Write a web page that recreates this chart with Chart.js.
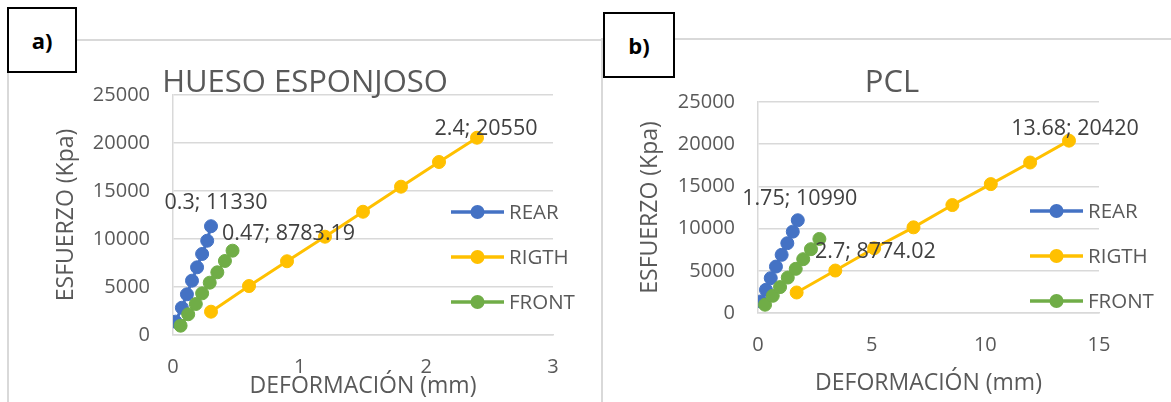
<!DOCTYPE html>
<html>
<head>
<meta charset="utf-8">
<script src="https://cdn.jsdelivr.net/npm/chart.js@4.4.1/dist/chart.umd.min.js"></script>
<style>
  body { margin: 0; background: #fff; width: 1171px; height: 402px; position: relative; overflow: hidden; font-family: "Open Sans", sans-serif; }
  .frame { position: absolute; border-top: 2px solid #d9d9d9; border-left: 2px solid #d9d9d9; }
  .tag { position: absolute; border: 2px solid #000; background: #fff; font-weight: bold; font-size: 22px; color: #000;
         display: flex; align-items: center; justify-content: center; box-sizing: border-box; z-index: 2; }
  canvas { position: absolute; top: 0; }
</style>
</head>
<body>
<div class="frame" style="left:7px; top:39px; width:600px; height:380px;"></div>
<div class="frame" style="left:601px; top:38px; width:600px; height:380px;"></div>
<div class="tag" style="left:7px; top:7px; width:70px; height:66px;">a)</div>
<div class="tag" style="left:603px; top:12px; width:72px; height:66px;">b)</div>
<div style="position:absolute; left:0; top:0; width:590px; height:402px;"><canvas id="chartA"></canvas></div>
<div style="position:absolute; left:590px; top:0; width:581px; height:402px;"><canvas id="chartB"></canvas></div>
<script>
// series names
const seriesNames = ['REAR', 'RIGTH', 'FRONT'];
const seriesColors = ['#4472C4', '#FFC000', '#70AD47'];

// a) HUESO ESPONJOSO
const rearXA = [0.02, 0.07, 0.11, 0.15, 0.19, 0.23, 0.27, 0.3];
const rearYA = [1390, 2840, 4240, 5660, 7050, 8440, 9820, 11330];
const rightXA = [0.3, 0.6, 0.9, 1.2, 1.5, 1.8, 2.1, 2.4];
const rightYA = [2430, 5100, 7680, 10240, 12840, 15450, 18020, 20550];
const frontXA = [0.06, 0.12, 0.18, 0.23, 0.29, 0.35, 0.41, 0.47];
const frontYA = [970, 2160, 3230, 4340, 5450, 6530, 7710, 8783.19];

// b) PCL
const rearXB = [0.12, 0.35, 0.56, 0.79, 1.04, 1.29, 1.53, 1.75];
const rearYB = [1370, 2750, 4130, 5500, 6890, 8270, 9640, 10990];
const rightXB = [1.7, 3.4, 5.11, 6.84, 8.55, 10.24, 11.97, 13.68];
const rightYB = [2430, 5030, 7670, 10150, 12790, 15270, 17830, 20420];
const frontXB = [0.31, 0.65, 0.97, 1.31, 1.66, 1.99, 2.33, 2.7];
const frontYB = [980, 2040, 3070, 4200, 5230, 6380, 7560, 8774.02];

// axis ticks
const yTicks = [0, 5000, 10000, 15000, 20000, 25000];
const xTicksA = [0, 1, 2, 3];
const xTicksB = [0, 5, 10, 15];

Chart.defaults.font.family = '"Open Sans", sans-serif';
Chart.defaults.color = '#595959';

function pairs(xs, ys) {
    return xs.map((x, i) => ({ x: x, y: ys[i] }));
}

// title, end-point labels and legend drawn on the canvas
const panelPlugin = {
    id: 'panel',
    afterDatasetsDraw(chart, args, opts) {
        const ctx = chart.ctx;
        ctx.save();
        ctx.textAlign = 'center';
        ctx.textBaseline = 'middle';
        ctx.fillStyle = '#595959';
        ctx.font = '31px "Open Sans"';
        ctx.fillText(opts.title, opts.titleX, opts.titleY);

        ctx.font = '21.5px "Open Sans"';
        ctx.fillStyle = '#404040';
        chart.data.datasets.forEach((ds, i) => {
            const meta = chart.getDatasetMeta(i);
            const pt = meta.data[meta.data.length - 1];
            const d = ds.data[ds.data.length - 1];
            const off = opts.labelOffsets[i];
            ctx.fillText(d.x + '; ' + d.y, pt.x + off[0], pt.y + off[1]);
        });

        // legend
        ctx.font = '20.5px "Open Sans"';
        ctx.textAlign = 'left';
        chart.data.datasets.forEach((ds, i) => {
            const y = opts.legendY[i];
            ctx.strokeStyle = ds.borderColor;
            ctx.lineWidth = 3.5;
            ctx.beginPath();
            ctx.moveTo(opts.legendX0, y);
            ctx.lineTo(opts.legendX1, y);
            ctx.stroke();
            ctx.fillStyle = ds.borderColor;
            ctx.beginPath();
            ctx.arc((opts.legendX0 + opts.legendX1) / 2, y, 7, 0, Math.PI * 2);
            ctx.fill();
            ctx.fillStyle = '#595959';
            ctx.fillText(ds.label, opts.legendX1 + 5, y + 1);
        });
        ctx.restore();
    }
};

function makeDatasets(sets) {
    return sets.map((s, i) => ({
        label: seriesNames[i],
        data: s,
        showLine: true,
        borderColor: seriesColors[i],
        backgroundColor: seriesColors[i],
        pointBackgroundColor: seriesColors[i],
        pointBorderColor: seriesColors[i],
        borderWidth: 3,
        pointRadius: 6.5,
        pointBorderWidth: 1,
        order: 2 - i
    }));
}

function makeChart(id, sets, xMax, xTicks, cfg) {
    new Chart(document.getElementById(id), {
        type: 'scatter',
        data: { datasets: makeDatasets(sets) },
        options: {
            responsive: true,
            maintainAspectRatio: false,
            animation: false,
            layout: { padding: { left: cfg.padLeft, right: cfg.padRight, top: cfg.padTop, bottom: 0 } },
            plugins: {
                legend: { display: false },
                tooltip: { enabled: false },
                panel: cfg.panel
            },
            scales: {
                x: {
                    type: 'linear',
                    min: 0,
                    max: xMax,
                    afterBuildTicks: (s) => { s.ticks = xTicks.map(v => ({ value: v })); },
                    grid: { display: false, drawTicks: false },
                    border: { display: true, color: '#d9d9d9', width: 1.5 },
                    ticks: { padding: 20, font: { size: 20 }, callback: (v) => String(v) },
                    title: { display: true, text: 'DEFORMACIÓN (mm)', font: { size: 23 }, padding: { top: 0, bottom: cfg.xTitlePad } },
                    afterFit: (s) => { s.height = cfg.xHeight; }
                },
                y: {
                    min: 0,
                    max: 25000,
                    afterBuildTicks: (s) => { s.ticks = yTicks.map(v => ({ value: v })); },
                    grid: { color: '#d9d9d9', lineWidth: 1.5, drawTicks: false },
                    border: { display: true, color: '#d9d9d9', width: 1.5 },
                    ticks: { padding: 23, font: { size: 20 }, callback: (v) => String(v) },
                    title: { display: true, text: 'ESFUERZO (Kpa)', font: { size: 23 }, padding: { top: 3, bottom: 0 } },
                    afterFit: (s) => { s.width = cfg.yWidth; }
                }
            }
        },
        plugins: [panelPlugin]
    });
}

makeChart('chartA',
    [pairs(rearXA, rearYA), pairs(rightXA, rightYA), pairs(frontXA, frontYA)],
    3, xTicksA,
    {
        padLeft: 50, padRight: 37, padTop: 95, yWidth: 123, xHeight: 67, xTitlePad: 2,
        panel: {
            title: 'HUESO ESPONJOSO', titleX: 305, titleY: 83,
            labelOffsets: [[5, -23], [9, -9], [56, -17]],
            legendX0: 451, legendX1: 504, legendY: [212, 257, 302]
        }
    });

makeChart('chartB',
    [pairs(rearXB, rearYB), pairs(rightXB, rightYB), pairs(frontXB, frontYB)],
    15, xTicksB,
    {
        padLeft: 44, padRight: 72, padTop: 102, yWidth: 124, xHeight: 89, xTitlePad: 5,
        panel: {
            title: 'PCL', titleX: 302, titleY: 83,
            labelOffsets: [[2, -21], [6, -12], [56, 13]],
            legendX0: 440, legendX1: 493, legendY: [211, 256, 301]
        }
    });
</script>
</body>
</html>
